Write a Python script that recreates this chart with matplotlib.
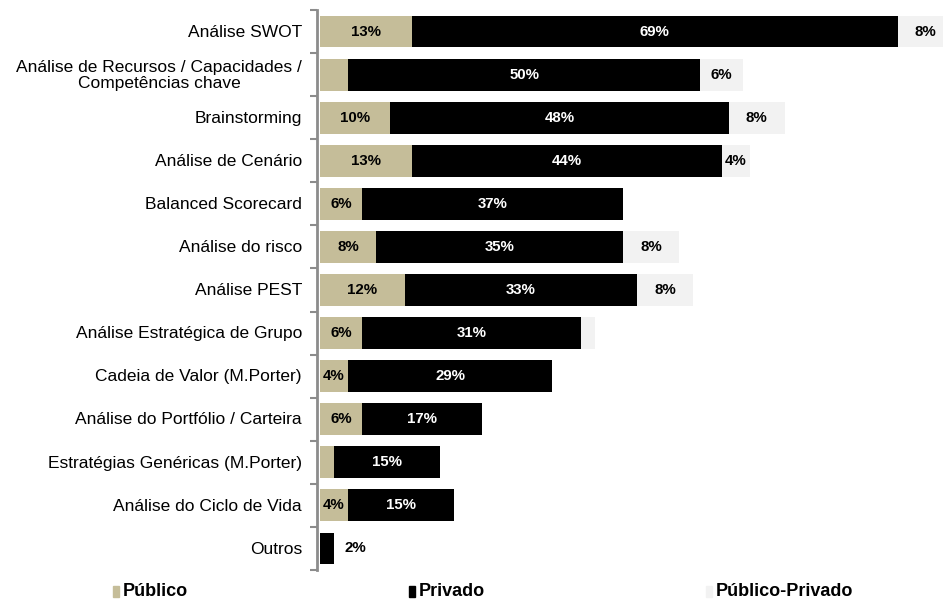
import matplotlib.pyplot as plt
from matplotlib.patches import Rectangle
import numpy as np

plt.rcParams['font.family'] = ['Liberation Sans', 'DejaVu Sans']

# dados (%)
categorias = ['Análise SWOT',
              'Análise de Recursos / Capacidades /\nCompetências chave',
              'Brainstorming',
              'Análise de Cenário',
              'Balanced Scorecard',
              'Análise do risco',
              'Análise PEST',
              'Análise Estratégica de Grupo',
              'Cadeia de Valor (M.Porter)',
              'Análise do Portfólio / Carteira',
              'Estratégias Genéricas (M.Porter)',
              'Análise do Ciclo de Vida',
              'Outros']
publico = [13, 4, 10, 13, 6, 8, 12, 6, 4, 6, 2, 4, 0]
privado = [69, 50, 48, 44, 37, 35, 33, 31, 29, 17, 15, 15, 2]
pub_priv = [8, 6, 8, 4, 0, 8, 8, 2, 0, 0, 0, 0, 0]
# segmentos sem rotulo
sem_rotulo_pub = [1, 10]
sem_rotulo_pp = [7]

series = ['Público', 'Privado', 'Público-Privado']
cores = ['#C5BD99', '#000000', '#F2F2F2']
cor_texto = ['black', 'white', 'black']

fig = plt.figure(figsize=(9.43, 6.01), dpi=100)
# eixo passa da borda direita, como no original
ax = fig.add_axes([320 / 943, 1 - 570 / 601, 634 / 943, 560 / 601])

y = np.arange(len(categorias))
esq = np.zeros(len(categorias))
for k, vals in enumerate([publico, privado, pub_priv]):
    vals = np.array(vals, dtype=float)
    ax.barh(y, vals, left=esq, height=0.74, color=cores[k], edgecolor='none')
    for i, v in enumerate(vals):
        if v == 0:
            continue
        if k == 0 and i in sem_rotulo_pub:
            continue
        if k == 2 and i in sem_rotulo_pp:
            continue
        if k == 1 and v < 3:
            # barra muito estreita: rotulo por fora
            ax.text(esq[i] + v + 1.5, i, '%d%%' % v, ha='left', va='center',
                    fontsize=10.8, fontweight='bold', color='black')
            continue
        ax.text(esq[i] + v / 2, i, '%d%%' % v, ha='center', va='center',
                fontsize=10.8, fontweight='bold', color=cor_texto[k])
    esq += vals

ax.set_xlim(0, 90)
ax.set_ylim(len(categorias) - 0.5, -0.5)
ax.set_yticks([])
ax.set_yticks(np.arange(len(categorias) + 1) - 0.5, minor=True)
ax.tick_params(axis='y', which='minor', length=5, width=1.5, color='#8C8C8C')
ax.set_xticks([])

# nomes das categorias (centrados quando ocupam duas linhas)
for i, nome in enumerate(categorias):
    ax.annotate(nome, xy=(0, i), xycoords=('axes fraction', 'data'),
                xytext=(-13, -0.5), textcoords='offset points',
                ha='right', va='center', multialignment='center',
                fontsize=12.5, linespacing=1.1)

for s in ['top', 'right', 'bottom']:
    ax.spines[s].set_visible(False)
ax.spines['left'].set_color('#8C8C8C')
ax.spines['left'].set_linewidth(2)
ax.spines['left'].set_position(('outward', 2))

# legenda
leg_x = [113, 409, 706]
for k in range(3):
    fig.patches.append(Rectangle((leg_x[k] / 943, 1 - 597 / 601), 6 / 943, 11 / 601,
                                 transform=fig.transFigure, color=cores[k]))
    fig.text((leg_x[k] + 10) / 943, 1 - 591 / 601, series[k], ha='left', va='center',
             fontsize=13, fontweight='bold')

fig.savefig('out.png', dpi=100)
